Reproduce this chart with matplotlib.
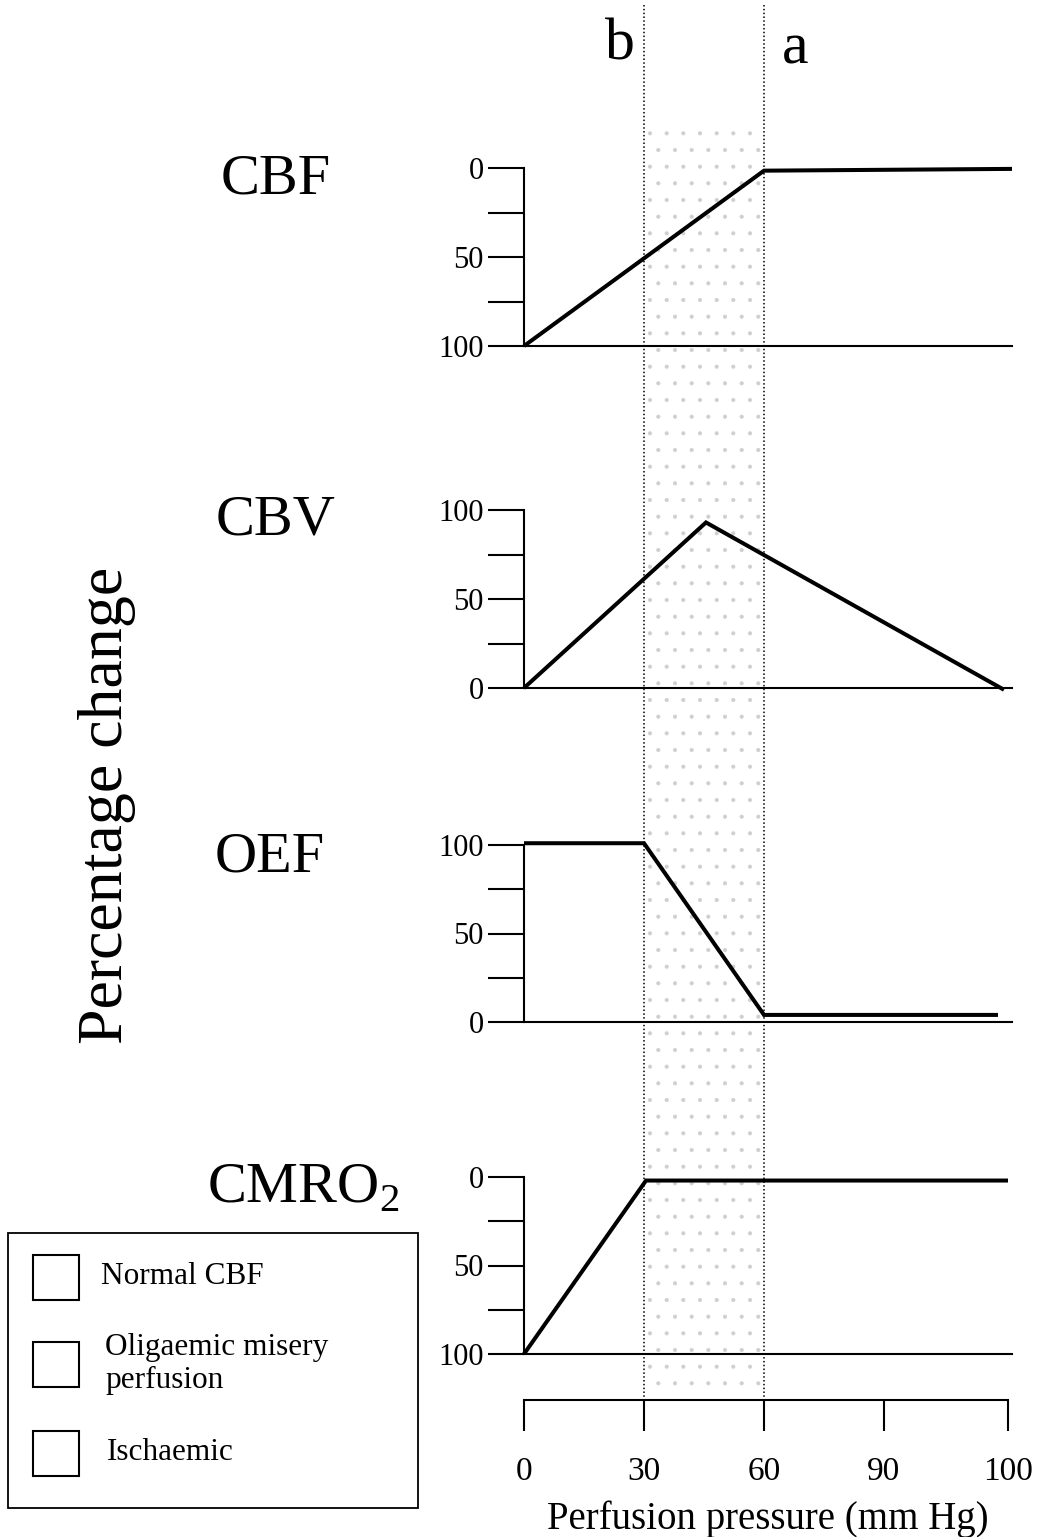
import matplotlib
matplotlib.use('Agg')
import matplotlib.pyplot as plt
from matplotlib.patches import Rectangle

W, H = 1042, 1537
SERIF = 'Liberation Serif'
plt.rcParams['font.family'] = SERIF
plt.rcParams['mathtext.fontset'] = 'custom'
plt.rcParams['mathtext.rm'] = SERIF
plt.rcParams['hatch.linewidth'] = 0.5

# schematic curves (perfusion pressure, percentage)
cbf_x = [0, 60, 122]
cbf_y = [100, 1.5, 0.5]
cbv_x = [0, 45.5, 120]
cbv_y = [0, 93, -1]
oef_x = [0, 30, 60, 118.5]
oef_y = [101, 101, 4, 4]
cmro2_x = [0, 30.5, 121]
cmro2_y = [100, 2, 2]

x_ticks = [0, 30, 60, 90, 121]
x_tick_labels = ['0', '30', '60', '90', '100']
y_ticks = [0, 25, 50, 75, 100]
y_tick_labels = ['0', '', '50', '', '100']
zone_limits = [30, 60]

XMAX = 122
LEFT, RIGHT = 524, 1012


def box(left, top, right, bottom):
    return [left / W, 1 - bottom / H, (right - left) / W, (bottom - top) / H]


fig = plt.figure(figsize=(W / 100, H / 100), dpi=100)

# background overlay: stippled zone and dotted boundaries
bg = fig.add_axes(box(LEFT, 0, RIGHT, 1400), zorder=0)
bg.set_xlim(0, XMAX)
bg.set_ylim(1400, 0)
bg.axis('off')
bg.fill_between(zone_limits, [120, 120], [1398, 1398], facecolor='none',
                edgecolor='#cfcfcf', hatch='.', linewidth=0)
for xv in zone_limits:
    bg.plot([xv, xv], [5, 1400], color='black', lw=1.1, ls=(0, (1, 1.5)))

panels = [
    ('CBF', cbf_x, cbf_y, 168, 346, True, (276, 180)),
    ('CBV', cbv_x, cbv_y, 510, 688, False, (276, 521)),
    ('OEF', oef_x, oef_y, 845, 1022, False, (270, 857)),
    ('CMRO$_\\mathrm{2}$', cmro2_x, cmro2_y, 1177, 1354, True, (303, 1188)),
]

for name, xs, ys, top, bottom, inverted, (tx, ty) in panels:
    ax = fig.add_axes(box(LEFT, top, RIGHT, bottom), zorder=2)
    ax.patch.set_alpha(0)
    ax.set_xlim(0, XMAX)
    if inverted:
        ax.set_ylim(100, 0)
    else:
        ax.set_ylim(0, 100)
    ax.plot(xs, ys, color='black', lw=2.9, solid_capstyle='butt',
            solid_joinstyle='miter', clip_on=False)
    for s in ['top', 'right']:
        ax.spines[s].set_visible(False)
    ax.spines['left'].set_linewidth(1.5)
    ax.spines['bottom'].set_linewidth(1.5)
    ax.set_xticks([])
    ax.set_yticks(y_ticks)
    ax.set_yticklabels(y_tick_labels, fontsize=22)
    ax.tick_params(axis='y', length=26, width=1.5, pad=3)
    fig.text(tx / W, 1 - ty / H, name, fontsize=42, ha='center', va='center')

# bottom perfusion pressure axis
xa = fig.add_axes(box(LEFT, 1390, RIGHT, 1400), zorder=2)
xa.patch.set_alpha(0)
xa.set_xlim(0, XMAX)
for s in ['top', 'right', 'left']:
    xa.spines[s].set_visible(False)
xa.spines['bottom'].set_bounds(0, x_ticks[-1])
xa.spines['bottom'].set_linewidth(1.5)
xa.set_yticks([])
xa.set_xticks(x_ticks)
xa.set_xticklabels(x_tick_labels, fontsize=24)
xa.tick_params(axis='x', length=22, width=1.5, pad=19)
xa.set_xlabel('Perfusion pressure (mm Hg)', fontsize=28, labelpad=9)

# zone letters
fig.text(620 / W, 1 - 45 / H, 'b', fontsize=43, ha='center', va='center')
fig.text(795 / W, 1 - 50 / H, 'a', fontsize=43, ha='center', va='center')

fig.text(107 / W, 1 - 805 / H, 'Percentage change', fontsize=46,
         rotation=90, ha='center', va='center')

# legend box
lg = fig.add_axes([0, 0, 1, 1], zorder=3)
lg.set_xlim(0, W)
lg.set_ylim(H, 0)
lg.axis('off')
lg.add_patch(Rectangle((8, 1233), 410, 275, fill=False, lw=1.3, ec='black'))
legend_items = ['Normal CBF', 'Oligaemic misery\nperfusion', 'Ischaemic']
legend_y = [1277, 1364, 1453]
legend_tx = [101, 105, 107]
for label, yc, txx in zip(legend_items, legend_y, legend_tx):
    lg.add_patch(Rectangle((33, yc - 22), 46, 45, fill=False, lw=1.5, ec='black'))
    lg.text(txx, yc, label, fontsize=22.5, ha='left', va='center', linespacing=1.15)

fig.savefig('out.png', dpi=100)
